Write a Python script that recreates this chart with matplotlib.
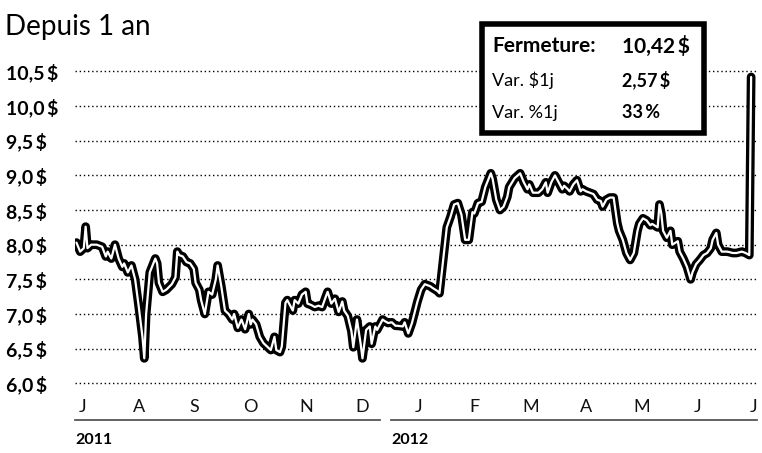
import matplotlib
matplotlib.use("Agg")
import matplotlib.pyplot as plt
import matplotlib.patheffects as pe
from matplotlib.patches import Rectangle

plt.rcParams['font.family'] = ['Lato', 'DejaVu Sans']

# days since 1 July 2011, closing price
jours = [12, 14, 16, 17, 18, 20, 23, 26, 28, 29, 31, 33, 35, 37, 38, 40, 42, 44, 46, 48,
         49, 50, 52, 55, 56, 57, 59, 61, 64, 66, 67, 68, 70, 72, 74, 76, 77, 79, 80, 82,
         84, 86, 88, 89, 91, 93, 95, 97, 98, 100, 102, 104, 106, 107, 108, 110, 112, 114, 116, 118,
         120, 121, 123, 124, 126, 127, 130, 131, 133, 135, 137, 138, 140, 142, 144, 146, 148, 149, 151, 153,
         155, 157, 158, 160, 162, 163, 165, 167, 168, 170, 172, 173, 175, 176, 179, 180, 182, 184, 186, 187,
         190, 191, 193, 195, 197, 198, 200, 202, 205, 206, 209, 210, 212, 214, 216, 218, 220, 222, 224, 226,
         228, 229, 231, 233, 235, 238, 239, 241, 243, 245, 247, 248, 251, 254, 256, 258, 259, 261, 264, 266,
         268, 269, 271, 273, 275, 277, 278, 280, 281, 283, 285, 287, 288, 290, 292, 294, 296, 298, 299, 301,
         303, 305, 306, 307, 308, 310, 312, 314, 316, 318, 319, 321, 323, 325, 326, 329, 330, 331, 332, 334,
         336, 337, 340, 341, 343, 345, 347, 348, 350, 352, 354, 356, 358, 359, 361, 362, 364, 367, 370, 372,
         375, 377, 379, 380]
prix = [8.03, 7.90, 7.95, 8.26, 7.95, 8.00, 8.00, 7.97, 7.83, 7.90, 7.80, 8.00, 7.80, 7.68, 7.73, 7.60, 7.70, 7.50, 7.10, 6.67,
        6.36, 7.00, 7.60, 7.80, 7.73, 7.45, 7.32, 7.35, 7.43, 7.53, 7.90, 7.85, 7.83, 7.75, 7.73, 7.65, 7.45, 7.35, 7.20, 7.00,
        7.32, 7.28, 7.50, 7.70, 7.40, 7.05, 7.00, 6.92, 7.00, 6.80, 6.92, 6.78, 7.00, 6.85, 6.92, 6.85, 6.67, 6.58, 6.53, 6.48,
        6.67, 6.48, 6.45, 6.53, 7.16, 7.20, 7.05, 7.20, 7.15, 7.28, 7.32, 7.15, 7.13, 7.10, 7.12, 7.10, 7.25, 7.32, 7.15, 7.22,
        7.03, 7.18, 7.05, 6.97, 6.75, 6.52, 6.92, 6.57, 6.36, 6.77, 6.82, 6.57, 6.82, 6.77, 6.92, 6.90, 6.87, 6.88, 6.83, 6.83,
        6.82, 6.88, 6.72, 6.87, 7.08, 7.18, 7.35, 7.43, 7.40, 7.38, 7.33, 7.30, 7.78, 8.25, 8.40, 8.58, 8.60, 8.43, 8.07, 8.07,
        8.47, 8.45, 8.60, 8.62, 8.83, 9.03, 8.95, 8.65, 8.50, 8.55, 8.69, 8.83, 8.96, 9.03, 8.90, 8.80, 8.87, 8.75, 8.75, 8.80,
        8.90, 8.75, 8.90, 9.00, 8.90, 8.80, 8.85, 8.80, 8.77, 8.87, 8.93, 8.77, 8.80, 8.77, 8.75, 8.73, 8.65, 8.63, 8.55, 8.65,
        8.68, 8.68, 8.50, 8.31, 8.20, 8.07, 7.88, 7.78, 7.88, 8.20, 8.30, 8.38, 8.35, 8.28, 8.30, 8.25, 8.58, 8.45, 8.20, 8.10,
        8.20, 8.00, 8.05, 7.90, 7.80, 7.68, 7.50, 7.60, 7.72, 7.78, 7.85, 7.88, 7.95, 8.07, 8.17, 8.00, 7.90, 7.90, 7.88, 7.88,
        7.90, 7.88, 7.85, 10.42]

mois = ['J', 'A', 'S', 'O', 'N', 'D', 'J', 'F', 'M', 'A', 'M', 'J', 'J']
mois_pos = [15.5 + 30.5 * i for i in range(13)]
niveaux = [6.0, 6.5, 7.0, 7.5, 8.0, 8.5, 9.0, 9.5, 10.0, 10.5]
niveaux_txt = ['6,0\u2009$', '6,5\u2009$', '7,0\u2009$', '7,5\u2009$', '8,0\u2009$',
               '8,5\u2009$', '9,0\u2009$', '9,5\u2009$', '10,0\u2009$', '10,5\u2009$']
annees = ['2011', '2012']
annees_debut = [11.2, 183.8]
annees_fin = [177.6, 383.0]

encadre = [('Fermeture:', '10,42\u2009$'), ('Var. $1j', '2,57\u2009$'), ('Var. %1j', '33\u2009%')]

W, H = 762, 453
fig = plt.figure(figsize=(W / 100, H / 100), dpi=100)
ax = fig.add_axes([75 / W, 1 - 395 / H, 682 / W, 335 / H])

for n in niveaux:
    ax.axhline(n, color='black', lw=1.0, ls=(0, (1, 2)), zorder=1)

ax.plot(jours, prix, color='white', lw=1.6, solid_joinstyle='round', solid_capstyle='round', zorder=3,
        path_effects=[pe.Stroke(linewidth=6.3, foreground='black', joinstyle='round', capstyle='round'), pe.Normal()])

ax.set_xlim(11.2, 383.2)
ax.set_ylim(5.831, 10.665)
for s in ax.spines.values():
    s.set_visible(False)

ax.set_yticks(niveaux)
ax.set_yticklabels(niveaux_txt, fontsize=14, fontweight='bold')
ax.tick_params(axis='y', length=0, pad=50)
for t in ax.get_yticklabels():
    t.set_horizontalalignment('left')

ax.set_xticks(mois_pos)
ax.set_xticklabels(mois, fontsize=13, fontweight='normal', color='#111111')
ax.tick_params(axis='x', length=0, pad=3)

tr = ax.get_xaxis_transform()
for nom, d, f in zip(annees, annees_debut, annees_fin):
    ax.plot([d, f], [-0.075, -0.075], transform=tr, color='#555555', lw=1.3, clip_on=False)
    ax.text(d, -0.135, nom, transform=tr, fontsize=11.5, fontweight='bold', va='center', ha='left')

fig.text(5 / W, 1 - 27 / H, 'Depuis 1 an', fontsize=20, fontweight='normal', va='center', ha='left')

box = Rectangle((482 / W, 1 - 133 / H), 222 / W, 109 / H, transform=fig.transFigure,
                facecolor='white', edgecolor='black', lw=4, zorder=10)
fig.patches.append(box)
rows_y = [46, 80, 113]
for (lab, val), yy in zip(encadre, rows_y):
    fig.text(492 / W, 1 - yy / H, lab, fontsize=15 if lab.startswith('F') else 13,
             fontweight='bold' if lab.startswith('F') else 'normal', va='center', ha='left', zorder=11)
    fig.text(622 / W, 1 - yy / H, val, fontsize=15 if lab.startswith('F') else 13,
             fontweight='bold', va='center', ha='left', zorder=11)

fig.savefig('out.png', dpi=100)
